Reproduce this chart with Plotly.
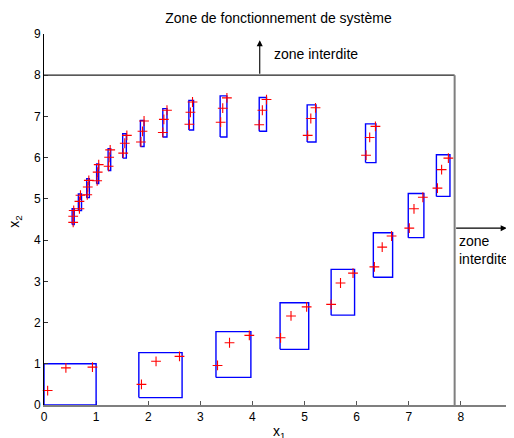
import plotly.graph_objects as go

# ---- data ----
box_x0 = [0.00, 1.82, 3.30, 4.53, 5.51, 6.32, 6.99, 7.53, 6.17, 5.05, 4.13, 3.38, 2.78, 2.28, 1.85, 1.51, 1.23, 1.01, 0.82, 0.66, 0.54]
box_x1 = [1.00, 2.65, 3.97, 5.08, 5.96, 6.69, 7.29, 7.79, 6.37, 5.22, 4.27, 3.51, 2.87, 2.36, 1.92, 1.58, 1.28, 1.05, 0.87, 0.72, 0.58]
box_y0 = [0.00, 0.18, 0.67, 1.35, 2.18, 3.10, 4.06, 5.06, 5.88, 6.38, 6.64, 6.50, 6.67, 6.50, 6.27, 5.99, 5.69, 5.37, 5.03, 4.72, 4.38]
box_y1 = [1.00, 1.27, 1.78, 2.48, 3.29, 4.18, 5.13, 6.07, 6.82, 7.28, 7.46, 7.50, 7.39, 7.19, 6.90, 6.58, 6.22, 5.85, 5.49, 5.12, 4.76]

pts_x = [
    [0.07, 0.42, 0.93], [1.87, 2.15, 2.60], [3.33, 3.56, 3.94], [4.54, 4.74, 5.04],
    [5.51, 5.69, 5.93], [6.34, 6.49, 6.67], [7.01, 7.10, 7.27], [7.55, 7.63, 7.76],
    [6.18, 6.25, 6.36], [5.06, 5.12, 5.21], [4.13, 4.19, 4.27], [3.39, 3.43, 3.51],
    [2.79, 2.81, 2.85], [2.28, 2.30, 2.36], [1.86, 1.89, 1.92], [1.52, 1.55, 1.59],
    [1.24, 1.25, 1.27], [1.02, 1.03, 1.05], [0.83, 0.84, 0.86], [0.68, 0.68, 0.70],
    [0.56, 0.56, 0.57],
]
pts_y = [
    [0.35, 0.90, 0.92], [0.50, 1.06, 1.18], [0.96, 1.51, 1.69], [1.63, 2.16, 2.38],
    [2.44, 2.96, 3.20], [3.35, 3.83, 4.10], [4.29, 4.76, 5.04], [5.26, 5.71, 5.99],
    [6.06, 6.49, 6.76], [6.54, 6.95, 7.21], [6.80, 7.15, 7.41], [6.86, 7.20, 7.45],
    [6.81, 7.10, 7.35], [6.61, 6.93, 7.15], [6.38, 6.64, 6.89], [6.11, 6.35, 6.54],
    [5.79, 6.01, 6.19], [5.44, 5.65, 5.83], [5.10, 5.29, 5.45], [4.76, 4.94, 5.09],
    [4.43, 4.58, 4.72],
]

limit_x = 7.88   # right boundary of the operating zone
limit_y = 8.0    # upper boundary of the operating zone

title_text = "Zone de fonctionnement de système"
zone_text = "zone interdite"
zone_text_right = "zone<br>interdite"
tick_vals = [0, 1, 2, 3, 4, 5, 6, 7, 8, 9]

FONT = "Liberation Sans, Arial, Helvetica, sans-serif"

W, H = 506, 430  # page body has an 8px margin

fig = go.Figure()

# boxes
for x0, x1, y0, y1 in zip(box_x0, box_x1, box_y0, box_y1):
    fig.add_trace(go.Scatter(
        x=[x0, x1, x1, x0, x0], y=[y0, y0, y1, y1, y0],
        mode="lines", line=dict(color="#0000ff", width=1.4),
        hoverinfo="skip", showlegend=False, cliponaxis=False))

# points
all_x = [v for g in pts_x for v in g]
all_y = [v for g in pts_y for v in g]
fig.add_trace(go.Scatter(
    x=all_x, y=all_y, mode="markers",
    marker=dict(symbol="cross-thin-open", size=7, color="red",
                line=dict(color="red", width=1.1)),
    showlegend=False, cliponaxis=False))

# zone boundaries
fig.add_trace(go.Scatter(x=[0, limit_x], y=[limit_y, limit_y], mode="lines",
                         line=dict(color="#222222", width=1.2), showlegend=False,
                         hoverinfo="skip"))
fig.add_trace(go.Scatter(x=[limit_x, limit_x], y=[0, limit_y], mode="lines",
                         line=dict(color="#7f7f7f", width=2), showlegend=False,
                         hoverinfo="skip"))

annotations = [
    # up arrow
    dict(x=4.14, y=8.85, ax=4.14, ay=limit_y, xref="x", yref="y", axref="x", ayref="y",
         text="", showarrow=True, arrowhead=2, arrowsize=1.1, arrowwidth=1.1, arrowcolor="black"),
    dict(x=4.38, y=8.52, xref="x", yref="y", text=zone_text, showarrow=False,
         xanchor="left", yanchor="middle", font=dict(family=FONT, size=14, color="black")),
    # right arrow
    dict(x=8.88, y=4.29, ax=limit_x, ay=4.29, xref="x", yref="y", axref="x", ayref="y",
         text="", showarrow=True, arrowhead=2, arrowsize=1.1, arrowwidth=1.1, arrowcolor="black"),
    dict(x=7.93, y=3.75, xref="x", yref="y", text=zone_text_right, showarrow=False,
         xanchor="left", yanchor="middle", align="left",
         font=dict(family=FONT, size=14, color="black")),
    # axis labels
    dict(x=0.5, y=-0.072, xref="paper", yref="paper", text="x<sub>1</sub>", showarrow=False,
         xanchor="center", yanchor="middle", font=dict(family=FONT, size=14, color="black")),
    dict(x=-0.062, y=0.494, xref="paper", yref="paper", text="x<sub>2</sub>", showarrow=False,
         textangle=-90, xanchor="center", yanchor="middle",
         font=dict(family=FONT, size=14, color="black")),
]

fig.update_layout(
    width=W, height=H,
    margin=dict(l=36, r=1, t=26, b=33),
    paper_bgcolor="white", plot_bgcolor="white",
    showlegend=False,
    title=dict(text=title_text, x=0.5, xref="paper", y=1 - 10 / H, yref="container",
               xanchor="center", yanchor="middle",
               font=dict(family=FONT, size=14, color="black")),
    annotations=annotations,
    xaxis=dict(range=[0, 9], tickvals=tick_vals, ticks="inside", ticklen=4,
               tickcolor="#555555", showline=True, linecolor="#7f7f7f", linewidth=2,
               showgrid=False, zeroline=False, mirror=False, automargin=False,
               layer="below traces", ticklabeloverflow="allow",
               tickfont=dict(family=FONT, size=12, color="black")),
    yaxis=dict(range=[0, 9], tickvals=tick_vals, ticks="inside", ticklen=4,
               tickcolor="#333333", showline=True, linecolor="black", linewidth=1,
               showgrid=False, zeroline=False, mirror=False, automargin=False,
               tickfont=dict(family=FONT, size=12, color="black")),
)

fig.write_html("out.html")
